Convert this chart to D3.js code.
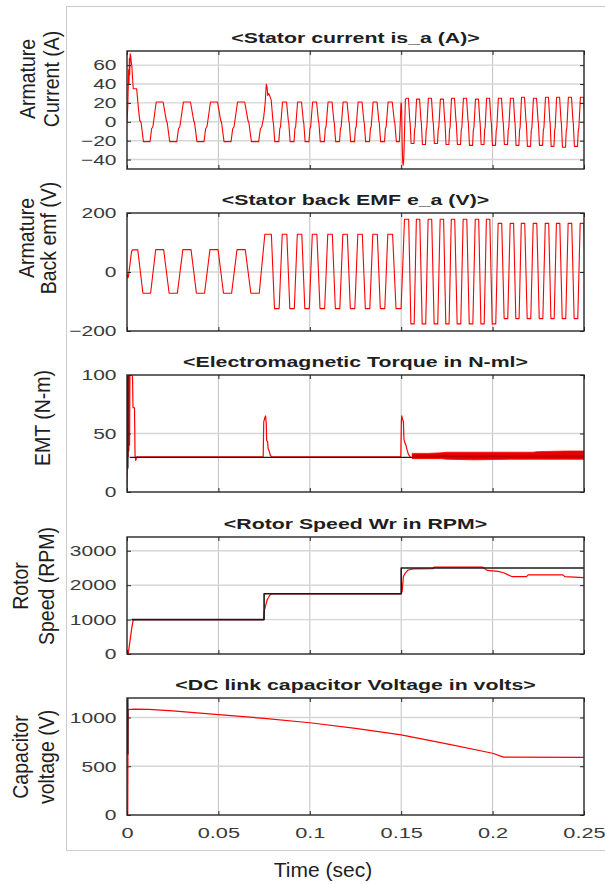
<!DOCTYPE html>
<html>
<head>
<meta charset="utf-8">
<script src="https://cdn.jsdelivr.net/npm/d3@7"></script>
<style>
  body { margin: 0; background: #fff; }
  svg { display: block; }
  text { font-family: "Liberation Sans", Arial, sans-serif; }
</style>
</head>
<body>
<div id="chart"></div>
<script>
// ===========================
// BLDC drive simulation - five stacked scopes
// ===========================

const xTicks = [0, 0.05, 0.1, 0.15, 0.2, 0.25];
const xTickLabels = ['0', '0.05', '0.1', '0.15', '0.2', '0.25'];

const currentTicks = [-40, -20, 0, 20, 40, 60];
const emfTicks = [-200, 0, 200];
const torqueTicks = [0, 50, 100];
const speedTicks = [0, 1000, 2000, 3000];
const dcTicks = [0, 500, 1000];

const peakTimes = [0.0038, 0.0178, 0.0328, 0.0476, 0.0624, 0.0777, 0.0862, 0.0944, 0.1026, 0.1111,
  0.1193, 0.1275, 0.1357, 0.1439, 0.1532, 0.1592, 0.1657, 0.1723, 0.1783, 0.1849,
  0.1915, 0.1975, 0.2040, 0.2106, 0.2166, 0.2232, 0.2298, 0.2358, 0.2423, 0.2489];

// plateau levels per cycle
const currentHigh = [21, 21, 21, 21, 21, 21, 21, 21, 21, 21, 21, 21, 21, 21,
  25, 24, 25, 24, 25, 25, 24, 25, 25, 25, 26, 25, 26, 26, 26, 26];
const currentLow = [-21, -21, -21, -21, -21, -21, -21, -21, -21, -21, -21, -21, -21, -21,
  -23, -24, -23, -24, -24, -25, -24, -25, -24, -25, -26, -25, -26, -27, -26, -27];
const emfHigh = [75, 76, 76, 76, 76, 128, 128, 128, 128, 128, 128, 128, 128, 128,
  179, 179, 179, 179, 179, 179, 179, 179, 165, 165, 165, 165, 165, 165, 165, 165];
const emfLow = [-72, -72, -72, -72, -72, -124, -124, -124, -124, -124, -124, -124, -124, -124,
  -176, -176, -176, -176, -176, -176, -176, -176, -158, -158, -158, -158, -158, -158, -158, -158];

// one electrical cycle, starting at the middle of the positive plateau
const currentShapePhase = [0, 0.13, 0.25, 0.28, 0.37, 0.63, 0.69, 0.74, 0.87, 1];
const currentShapeLevel = [1, 1, 0.05, -0.05, -1, -1, -0.35, -0.25, 1, 1];
const emfShapePhase = [0, 0.15, 0.35, 0.65, 0.85, 1];
const emfShapeLevel = [1, 1, -1, -1, 1, 1];

// transients [t, value]
const currentStart = [[0, 0], [0.0004, 15], [0.0009, 55], [0.0011, 40], [0.0013, 67], [0.0015, 50],
  [0.0017, 72], [0.0020, 70], [0.0024, 62], [0.0027, 58], [0.0031, 44], [0.0034, 35],
  [0.0053, 35], [0.0062, 15], [0.0070, 1]];
const currentStep1 = [[0.0748, 5], [0.0756, 20], [0.0762, 40], [0.0766, 37], [0.0770, 28],
  [0.0775, 30], [0.0782, 27], [0.0789, 23]];
const currentStep2 = [[0.1490, -21], [0.1495, 0], [0.1499, 20], [0.1502, 18], [0.1505, -20],
  [0.1508, -42], [0.1511, -46], [0.1514, -40], [0.1518, -12], [0.1523, 24]];
const emfStart = [[0, -5], [0.0004, -20], [0.0008, -15], [0.0025, 70], [0.0030, 75]];

const torque = [[0, 0], [0.0002, 22], [0.0004, 98], [0.0006, 30], [0.0008, 100], [0.0010, 35],
  [0.0012, 100], [0.0014, 40], [0.0016, 100], [0.0024, 100], [0.0030, 99], [0.0033, 72],
  [0.0041, 72], [0.0044, 31], [0.0048, 27], [0.0053, 30],
  [0.0745, 30], [0.0748, 60], [0.0753, 63], [0.0758, 65], [0.0762, 58], [0.0764, 44],
  [0.0769, 43], [0.0772, 37], [0.0778, 35], [0.0785, 31], [0.0795, 30],
  [0.1498, 30], [0.1501, 60], [0.1503, 65], [0.1508, 62], [0.1512, 60], [0.1515, 45],
  [0.1520, 42], [0.1526, 40], [0.1532, 36], [0.1540, 32], [0.1550, 30]];
const rippleT = [0.156, 0.165, 0.172, 0.175, 0.19, 0.21, 0.222, 0.225, 0.24, 0.25];
const rippleHi = [33, 33, 33.5, 34, 34, 34, 34, 34.5, 35, 35];
const rippleLo = [28.5, 28.5, 28.5, 28, 27.5, 28, 28, 28, 28, 28];
const rippleCore = [[0.156, 30.5], [0.25, 30.5]];
const loadTorque = [[0.0015, 29.6], [0.25, 29.6]];
const torqueEdge = [[0.0003, 20], [0.0003, 100]];

const speed = [[0, 0], [0.0007, 10], [0.0013, 250], [0.0026, 750], [0.0034, 990], [0.0045, 1000],
  [0.0747, 1000], [0.0750, 1230], [0.0759, 1420], [0.0768, 1590], [0.0782, 1715], [0.0792, 1750],
  [0.1499, 1750], [0.1505, 1810], [0.1512, 2250], [0.1522, 2350], [0.1538, 2440], [0.1565, 2475],
  [0.1675, 2480], [0.168, 2525], [0.1945, 2525], [0.197, 2430], [0.203, 2400], [0.206, 2360],
  [0.2105, 2250], [0.2185, 2250], [0.2195, 2300], [0.2385, 2300], [0.2395, 2250], [0.25, 2220]];
const speedRef = [[0.0025, 1000], [0.075, 1000], [0.075, 1750], [0.15, 1750], [0.15, 2500], [0.25, 2500]];

const dcVoltage = [[0, 0], [0.0004, 0], [0.0006, 1082], [0.004, 1086], [0.012, 1084], [0.025, 1068],
  [0.05, 1030], [0.075, 991], [0.1, 946], [0.125, 888], [0.15, 821], [0.175, 730],
  [0.2, 633], [0.206, 593], [0.25, 592]];
const dcEdge = [[0.0003, 620], [0.0003, 1200]];

// ---------------------------
// layout
// ---------------------------
const width = 605, height = 884;
const plotLeft = 127, plotRight = 584;
const red = '#ff0000', black = '#1c1c1c';

const panels = [
  { top: 51, bottom: 169, domain: [-50, 75], ticks: currentTicks,
    title: '<Stator current is_a (A)>', label: ['Armature', 'Current (A)'], labelX: [35, 59], labelY: 79 },
  { top: 213, bottom: 331, domain: [-200, 200], ticks: emfTicks,
    title: '<Stator back EMF e_a (V)>', label: ['Armature', 'Back emf (V)'], labelX: [34, 56], labelY: 238 },
  { top: 375, bottom: 492, domain: [0, 100], ticks: torqueTicks,
    title: '<Electromagnetic Torque in N-ml>', label: ['EMT (N-m)'], labelX: [50], labelY: 418 },
  { top: 537, bottom: 654, domain: [0, 3400], ticks: speedTicks,
    title: '<Rotor Speed Wr in RPM>', label: ['Rotor', 'Speed (RPM)'], labelX: [28, 54], labelY: 586 },
  { top: 698, bottom: 815, domain: [0, 1200], ticks: dcTicks,
    title: '<DC link capacitor Voltage in volts>', label: ['Capacitor', 'voltage (V)'], labelX: [28, 54], labelY: 757 }
];

// build a trapezoidal trace from plateau times and levels
function buildWave(peaks, high, low, phase, level) {
  const pts = [];
  peaks.forEach((p, i) => {
    const next = i < peaks.length - 1 ? peaks[i + 1] : p + (p - peaks[i - 1]);
    const T = next - p;
    for (let k = 0; k < phase.length - 1; k++) {
      const lv = level[k];
      const j = (phase[k] > 0.5 && lv > 0) ? Math.min(i + 1, peaks.length - 1) : i;
      pts.push([p + phase[k] * T, lv >= 0 ? lv * high[j] : -lv * low[j]]);
    }
  });
  return pts;
}

function patch(base, piece) {
  const t0 = piece[0][0], t1 = piece[piece.length - 1][0];
  return base.filter(d => d[0] < t0).concat(piece, base.filter(d => d[0] > t1));
}

const svg = d3.select('#chart').append('svg')
  .attr('width', width)
  .attr('height', height);

// outer figure frame
svg.append('rect')
  .attr('x', 66.5).attr('y', 6.5)
  .attr('width', 600).attr('height', 844)
  .attr('fill', 'none')
  .attr('stroke', '#cdcdcd');

const x = d3.scaleLinear().domain([0, 0.25]).range([plotLeft, plotRight]);

const axes = panels.map((p, i) => {
  const y = d3.scaleLinear().domain(p.domain).range([p.bottom, p.top]);
  const clipId = 'clip' + i;
  svg.append('clipPath').attr('id', clipId)
    .append('rect')
    .attr('x', plotLeft).attr('y', p.top)
    .attr('width', plotRight - plotLeft).attr('height', p.bottom - p.top);

  const grid = svg.append('g');
  grid.selectAll('.vgrid')
    .data(xTicks.slice(1, -1))
    .join('line')
    .attr('x1', d => x(d)).attr('x2', d => x(d))
    .attr('y1', p.top).attr('y2', p.bottom)
    .attr('stroke', '#c2c2c2');
  grid.selectAll('.hgrid')
    .data(p.ticks.filter(v => v > p.domain[0] && v < p.domain[1]))
    .join('line')
    .attr('x1', plotLeft).attr('x2', plotRight)
    .attr('y1', d => y(d)).attr('y2', d => y(d))
    .attr('stroke', '#d6d6d6')
    .attr('stroke-width', 1.4);

  const layer = svg.append('g').attr('clip-path', `url(#${clipId})`);
  const front = svg.append('g');
  return { p, y, layer, front, last: i === panels.length - 1 };
});

function drawLine(ax, pts, color, w) {
  const line = d3.line().x(d => x(d[0])).y(d => ax.y(d[1]));
  ax.layer.append('path')
    .attr('d', line(pts))
    .attr('fill', 'none')
    .attr('stroke', color)
    .attr('stroke-width', w)
    .attr('stroke-linejoin', 'round');
}

// Panel 1 - stator current
let current = buildWave(peakTimes, currentHigh, currentLow, currentShapePhase, currentShapeLevel);
current = patch(current, currentStart);
current = patch(current, currentStep1);
current = patch(current, currentStep2);
drawLine(axes[0], current, red, 1.1);

// Panel 2 - back emf
let emf = buildWave(peakTimes, emfHigh, emfLow, emfShapePhase, emfShapeLevel);
emf = patch(emf, emfStart);
drawLine(axes[1], emf, red, 1.1);

// Panel 3 - electromagnetic torque (load line drawn over the red trace)
drawLine(axes[2], torque, red, 1.2);
drawLine(axes[2], loadTorque, black, 1.4);
const ripple = rippleT.map((t, i) => ({ t, lo: rippleLo[i], hi: rippleHi[i] }));
axes[2].layer.append('path')
  .attr('d', d3.area().x(d => x(d.t)).y0(d => axes[2].y(d.lo)).y1(d => axes[2].y(d.hi))(ripple))
  .attr('fill', '#e80000')
  .attr('stroke', red)
  .attr('stroke-width', 0.8);
drawLine(axes[2], rippleCore, '#c00000', 2.5);
drawLine(axes[2], torqueEdge, black, 2);

// Panel 4 - rotor speed
drawLine(axes[3], speed, red, 1.2);
drawLine(axes[3], speedRef, black, 1.6);

// Panel 5 - DC link voltage
drawLine(axes[4], dcVoltage, red, 1.2);
drawLine(axes[4], dcEdge, black, 2);

// frames, ticks, labels
axes.forEach(ax => {
  const { p, y, front } = ax;

  front.append('rect')
    .attr('x', plotLeft).attr('y', p.top)
    .attr('width', plotRight - plotLeft).attr('height', p.bottom - p.top)
    .attr('fill', 'none')
    .attr('stroke', '#262626')
    .attr('stroke-width', 1.4);

  const bottomAxis = front.append('g')
    .attr('transform', `translate(0,${p.bottom})`)
    .call(d3.axisBottom(x).tickValues(xTicks).tickSize(-4).tickPadding(12)
      .tickFormat((d, i) => ax.last ? xTickLabels[i] : ''));
  front.append('g')
    .attr('transform', `translate(0,${p.top})`)
    .call(d3.axisTop(x).tickValues(xTicks).tickSize(-4).tickFormat(''));
  const leftAxis = front.append('g')
    .attr('transform', `translate(${plotLeft},0)`)
    .call(d3.axisLeft(y).tickValues(p.ticks).tickSize(-4).tickPadding(10)
      .tickFormat(d3.format('d')));
  front.append('g')
    .attr('transform', `translate(${plotRight},0)`)
    .call(d3.axisRight(y).tickValues(p.ticks).tickSize(-4).tickFormat(''));

  front.selectAll('.domain').remove();
  front.selectAll('.tick line').attr('stroke', '#262626');

  leftAxis.selectAll('text')
    .attr('x', -10.5 / 1.4)
    .attr('transform', 'scale(1.4,1)')
    .style('font-size', '15px')
    .attr('fill', '#3a3a3a');
  bottomAxis.selectAll('text')
    .attr('transform', 'scale(1.45,1)')
    .style('font-size', '15px')
    .attr('fill', '#3a3a3a');

  // title
  front.append('text')
    .attr('transform', `translate(${(plotLeft + plotRight) / 2},${p.top - 8.5}) scale(1.42,1)`)
    .attr('text-anchor', 'middle')
    .style('font-size', '15px')
    .style('font-weight', 'bold')
    .attr('fill', '#1e1e1e')
    .text(p.title);

  // y label, one or two rotated lines
  p.label.forEach((txt, i) => {
    front.append('text')
      .attr('transform', `translate(${p.labelX[i]},${p.labelY}) rotate(-90) scale(1,1.15)`)
      .attr('text-anchor', 'middle')
      .style('font-size', '19.5px')
      .attr('fill', '#1e1e1e')
      .text(txt);
  });
});

svg.append('text')
  .attr('transform', 'translate(323,877) scale(1.05,1)')
  .attr('text-anchor', 'middle')
  .style('font-size', '20px')
  .attr('fill', '#1e1e1e')
  .text('Time (sec)');
</script>
</body>
</html>
